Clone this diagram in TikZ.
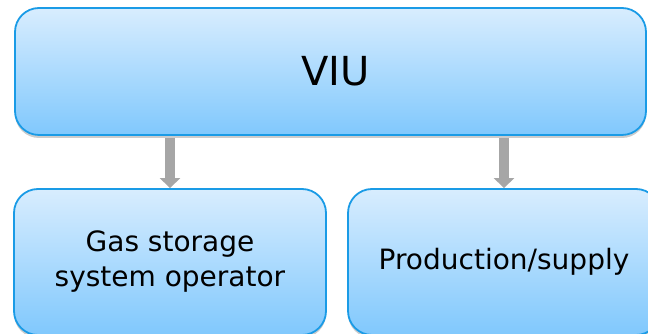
\documentclass[tikz,border=0pt]{standalone}
\usepackage{fontspec}
\setmainfont{DejaVu Sans}
\usetikzlibrary{arrows.meta}
\usetikzlibrary{positioning,shadows,calc}
\definecolor{boxTop}{HTML}{D8EDFE}
\definecolor{boxBottom}{HTML}{80C8FD}
\definecolor{boxLine}{HTML}{1A9BE6}
\definecolor{arrowGrey}{HTML}{A6A6A6}
\tikzset{unitBox/.style={rectangle,rounded corners=24pt,draw=boxLine,line width=1.8pt,
		                 top color=boxTop,bottom color=boxBottom,text=black,
		                 drop shadow={shadow xshift=0pt,shadow yshift=-3pt,opacity=0.4}},
		splitArrow/.style={-{Triangle[width=20pt,length=10pt]},line width=10pt,color=arrowGrey},
		every node/.style={align=center}}

\begin{document}
\begin{tikzpicture}[x=1pt,y=1pt]
\useasboundingbox (0,0) rectangle (648,334);
\node[unitBox,minimum width=631pt,minimum height=127pt,font=\fontsize{40}{48}\selectfont] (viu) at (330.5,262.5) {\hspace*{10pt}VIU};
\node[unitBox,minimum width=312pt,minimum height=146pt,font=\fontsize{28}{35}\selectfont] (storage) at (170,72) {Gas storage\\system operator};
\node[unitBox,minimum width=312pt,minimum height=146pt,font=\fontsize{28}{35}\selectfont] (supply) at (504,72) {Production/supply};
\draw[splitArrow,shorten <=2pt] (viu.south -| storage.north) -- (storage.north);
\draw[splitArrow,shorten <=2pt] (viu.south -| supply.north) -- (supply.north);
\end{tikzpicture}
\end{document}
